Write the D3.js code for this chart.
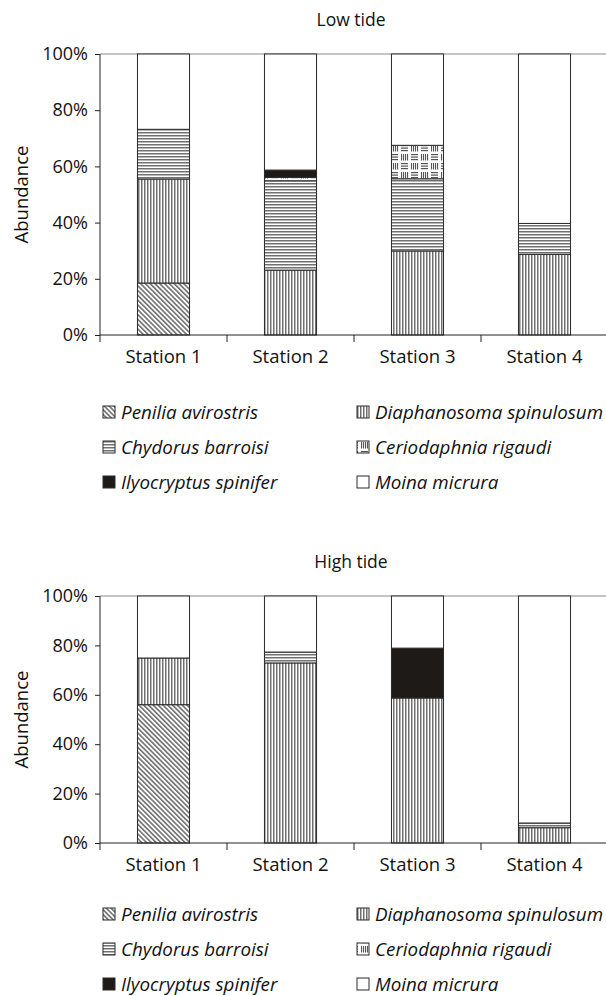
<!DOCTYPE html>
<html>
<head>
<meta charset="utf-8">
<script src="https://cdn.jsdelivr.net/npm/d3@7"></script>
<style>
  html, body { margin: 0; padding: 0; background: #fff; }
  svg { display: block; }
  text { font-family: "Open Sans", "DejaVu Sans", sans-serif; fill: #111; }
</style>
</head>
<body>
<svg id="chart" width="606" height="996"></svg>
<script>
// Stations along the x axis
const stations = ["Station 1", "Station 2", "Station 3", "Station 4"];

// Cladoceran species, bottom to top of each stack
const species = [
  "Penilia avirostris",
  "Diaphanosoma spinulosum",
  "Chydorus barroisi",
  "Ceriodaphnia rigaudi",
  "Ilyocryptus spinifer",
  "Moina micrura"
];

// Relative abundance (%) at low tide, one array per species
const peniliaLow      = [18.5, 0, 0, 0];
const diaphanosomaLow = [37.0, 23.1, 29.9, 28.7];
const chydorusLow     = [17.7, 31.8, 25.7, 11.0];
const ceriodaphniaLow = [0, 1.2, 11.9, 0];
const ilyocryptusLow  = [0, 2.6, 0, 0];
const moinaLow        = [26.8, 41.3, 32.5, 60.3];

// Relative abundance (%) at high tide
const peniliaHigh      = [56.0, 0, 0, 0];
const diaphanosomaHigh = [18.9, 72.9, 58.7, 6.2];
const chydorusHigh     = [0, 4.4, 0, 1.9];
const ceriodaphniaHigh = [0, 0, 0, 0];
const ilyocryptusHigh  = [0, 0, 20.2, 0];
const moinaHigh        = [25.1, 22.7, 21.1, 91.9];

const yTicks = [0, 20, 40, 60, 80, 100];
const yTickLabels = ["0%", "20%", "40%", "60%", "80%", "100%"];

const panels = [
  { title: "Low tide", top: 54, bottom: 335, legendTop: 412,
    series: [peniliaLow, diaphanosomaLow, chydorusLow, ceriodaphniaLow, ilyocryptusLow, moinaLow] },
  { title: "High tide", top: 596, bottom: 843, legendTop: 914,
    series: [peniliaHigh, diaphanosomaHigh, chydorusHigh, ceriodaphniaHigh, ilyocryptusHigh, moinaHigh] }
];

const svg = d3.select("#chart");
const defs = svg.append("defs");
const stripe = "#707070";

// Fill patterns for each species
function stripes(id, w, h, draw, transform) {
  const p = defs.append("pattern").attr("id", id)
    .attr("patternUnits", "userSpaceOnUse").attr("width", w).attr("height", h);
  if (transform) p.attr("patternTransform", transform);
  p.append("rect").attr("width", w).attr("height", h).attr("fill", "#fff");
  draw(p);
}
stripes("p-diag", 3.4, 10, p => p.append("rect").attr("width", 1.6).attr("height", 10).attr("fill", stripe), "rotate(-45)");
stripes("p-vert", 3, 10, p => p.append("rect").attr("width", 1.5).attr("height", 10).attr("fill", stripe));
stripes("p-horz", 10, 3, p => p.append("rect").attr("width", 10).attr("height", 1.5).attr("fill", stripe));
stripes("p-weave", 20, 18, p => {
  const g = "#555";
  // horizontal dash groups
  [[1, 1], [11, 10]].forEach(([x, y]) => {
    for (let i = 0; i < 3; i++) p.append("rect").attr("x", x).attr("y", y + i * 2.5).attr("width", 7).attr("height", 1.2).attr("fill", g);
  });
  // vertical line groups
  [[11, 1], [1, 10]].forEach(([x, y]) => {
    for (let i = 0; i < 4; i++) p.append("rect").attr("x", x + i * 2).attr("y", y).attr("width", 1.1).attr("height", 6.5).attr("fill", g);
  });
});

const fills = ["url(#p-diag)", "url(#p-vert)", "url(#p-horz)", "url(#p-weave)", "#1e1a17", "#fff"];

const x = d3.scaleBand().domain(stations).range([100, 608]).paddingInner(0.59).paddingOuter(0.295);
const bandEdges = d3.range(stations.length + 1).map(i => 100 + i * (508 / stations.length));

panels.forEach(panel => {
  const y = d3.scaleLinear().domain([0, 100]).range([panel.bottom, panel.top]);
  const g = svg.append("g");

  // rows for d3.stack
  const rows = stations.map((s, i) => {
    const r = { station: s };
    species.forEach((sp, k) => { r[sp] = panel.series[k][i]; });
    return r;
  });
  const stacked = d3.stack().keys(species)(rows);

  // top frame line
  g.append("line").attr("x1", 100).attr("x2", 606)
    .attr("y1", y(100)).attr("y2", y(100))
    .attr("stroke", "#8a8a8a").attr("stroke-width", 1);

  // stacked bars
  stacked.forEach((layer, k) => {
    g.append("g").selectAll("rect")
      .data(layer.filter(d => d[1] - d[0] > 0))
      .join("rect")
      .attr("x", d => x(d.data.station))
      .attr("width", x.bandwidth())
      .attr("y", d => y(d[1]))
      .attr("height", d => y(d[0]) - y(d[1]))
      .attr("fill", fills[k])
      .attr("stroke", "#2a2a2a")
      .attr("stroke-width", 1);
  });

  // y axis
  const yAxis = d3.axisLeft(y).tickValues(yTicks)
    .tickFormat((d, i) => yTickLabels[i]).tickSize(5).tickPadding(7);
  const ya = g.append("g").attr("transform", "translate(100,0)").call(yAxis);
  ya.select(".domain").remove();
  ya.append("line").attr("x1", 0).attr("x2", 0).attr("y1", y(100)).attr("y2", y(0) + 7).attr("stroke", "#222");
  ya.selectAll(".tick line").attr("stroke", "#222");
  ya.selectAll(".tick text").attr("font-size", 18).attr("fill", "#111")
    .style("font-family", "'Open Sans', 'DejaVu Sans', sans-serif");

  // x axis: baseline, ticks at band edges, category labels
  const xa = g.append("g");
  xa.append("line").attr("x1", 100).attr("x2", 606).attr("y1", y(0)).attr("y2", y(0)).attr("stroke", "#222");
  xa.selectAll("line.edge").data(bandEdges.slice(1, -1)).join("line").attr("class", "edge")
    .attr("x1", d => d).attr("x2", d => d).attr("y1", y(0)).attr("y2", y(0) + 7).attr("stroke", "#222");
  xa.selectAll("text").data(stations).join("text")
    .attr("x", d => x(d) + x.bandwidth() / 2).attr("y", y(0) + 28)
    .attr("text-anchor", "middle").attr("font-size", 18.5).text(d => d);

  // axis title and panel title
  g.append("text")
    .attr("transform", `translate(28,${(y(0) + y(100)) / 2}) rotate(-90)`)
    .attr("text-anchor", "middle").attr("font-size", 18.5).text("Abundance");
  g.append("text").attr("x", 351).attr("y", panel.top - 28)
    .attr("text-anchor", "middle").attr("font-size", 17.5).text(panel.title);

  // legend: two columns, three rows
  const lg = g.append("g");
  species.forEach((sp, k) => {
    const col = k % 2, row = Math.floor(k / 2);
    const lx = col === 0 ? 103 : 357;
    const ly = panel.legendTop + row * 35;
    lg.append("rect").attr("x", lx).attr("y", ly - 6).attr("width", 12).attr("height", 12)
      .attr("fill", fills[k]).attr("stroke", "#2a2a2a").attr("stroke-width", 1);
    lg.append("text").attr("x", lx + 18).attr("y", ly + 6.5)
      .attr("font-size", 18.8).attr("font-style", "italic").text(sp);
  });
});
</script>
</body>
</html>
